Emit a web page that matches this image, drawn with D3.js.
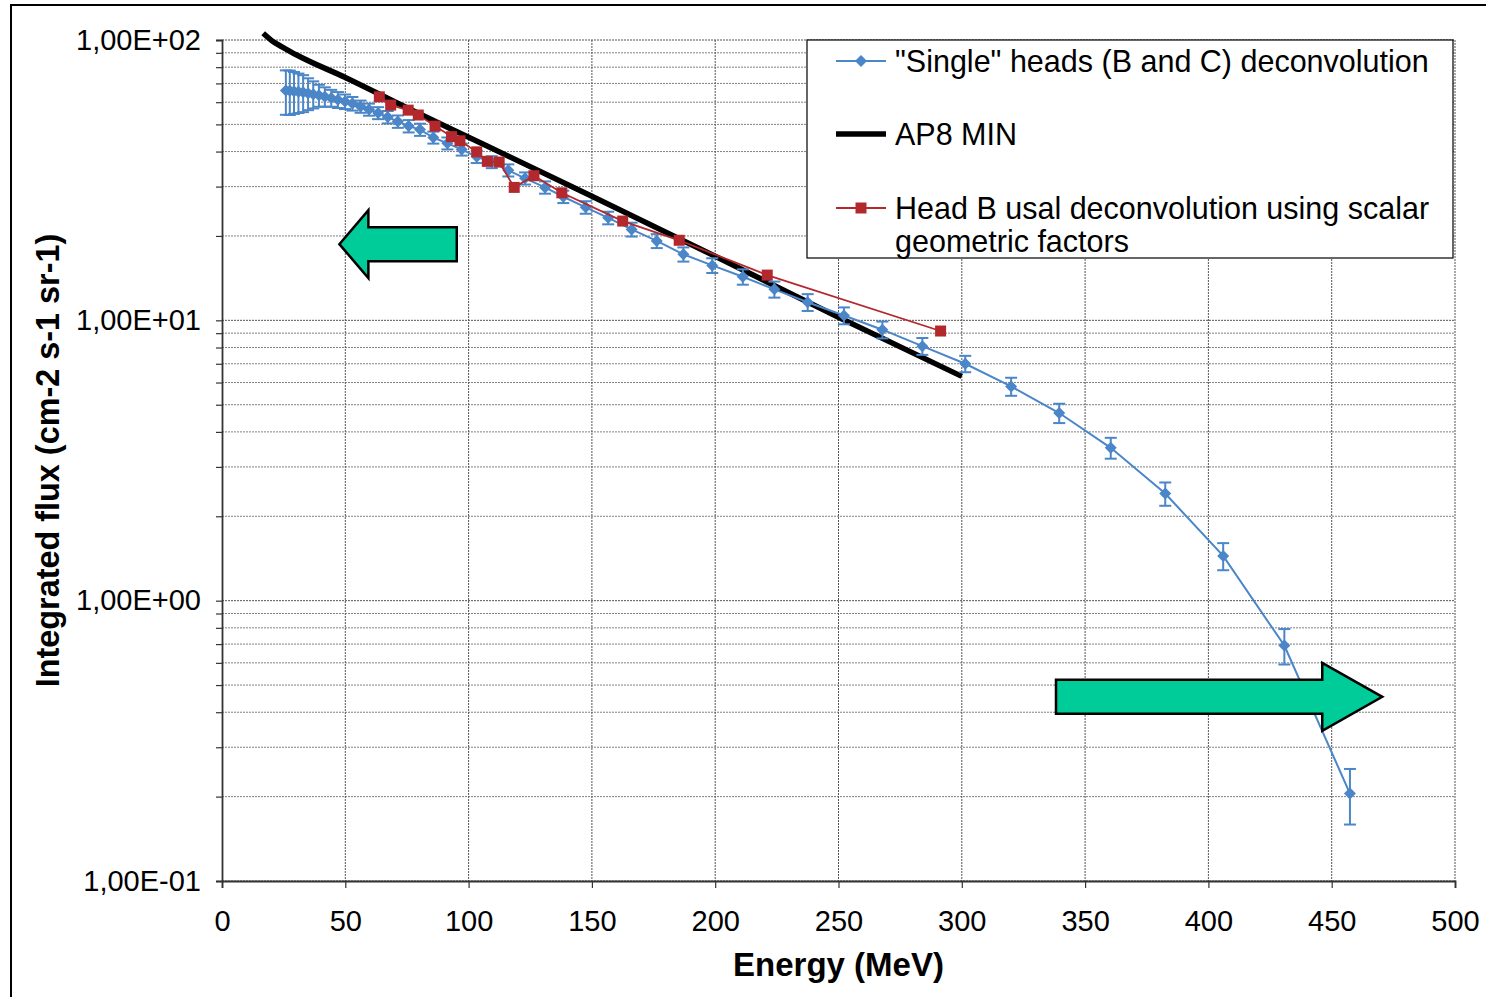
<!DOCTYPE html>
<html>
<head>
<meta charset="utf-8">
<script src="https://cdn.jsdelivr.net/npm/d3@7"></script>
<style>
  body { margin: 0; background: #fff; }
  svg { display: block; font-family: "Liberation Sans", Arial, sans-serif; }
</style>
</head>
<body>
<svg id="chart" width="1486" height="997"></svg>
<script>
// "Single" heads (B and C) deconvolution
const singleEnergy = [25.9, 27.5, 29.2, 31.0, 32.9, 34.9, 37.0, 39.3, 41.7, 44.3,
  47.0, 49.9, 52.9, 56.2, 59.6, 63.3, 67.2, 71.3, 75.7, 80.3,
  85.7, 91.4, 97.2, 103.3, 109.4, 116.1, 122.9, 131.0, 138.4, 147.5,
  156.6, 166.1, 176.3, 187.1, 198.8, 211.2, 224.0, 237.5, 252.2, 267.8,
  284.0, 301.4, 320.0, 339.5, 360.4, 382.5, 406.0, 430.8, 457.4];
const singleFlux = [66.0, 65.9, 65.7, 65.4, 65.1, 64.6, 64.1, 63.5, 62.8, 62.1,
  61.2, 60.3, 59.3, 57.9, 56.5, 54.9, 53.1, 51.2, 49.3, 47.9,
  44.9, 42.8, 40.7, 38.3, 36.7, 34.3, 32.1, 29.8, 27.6, 25.3,
  23.2, 21.1, 19.2, 17.2, 15.7, 14.3, 12.9, 11.6, 10.4, 9.26,
  8.09, 7.00, 5.81, 4.67, 3.51, 2.41, 1.444, 0.692, 0.205];
const singleErr = [11.9, 11.9, 11.2, 10.5, 9.8, 8.4, 7.1, 5.7, 5.0, 4.3,
  4.0, 3.6, 3.3, 2.9, 2.8, 2.7, 2.7, 2.6, 2.5, 2.4,
  2.2, 2.1, 2.0, 1.9, 1.8, 1.7, 1.6, 1.5, 1.4, 1.3,
  1.2, 1.2, 1.1, 1.0, 0.95, 0.9, 0.85, 0.8, 0.72, 0.64,
  0.56, 0.47, 0.43, 0.37, 0.30, 0.23, 0.16, 0.10, 0.046];

// Head B usal deconvolution
const headBEnergy = [63.8, 68.4, 75.5, 79.6, 86.4, 93.1, 96.5, 103.3, 107.6, 112.4,
  118.5, 126.5, 137.8, 162.5, 185.4, 221.1, 291.4];
const headBFlux = [62.7, 58.6, 56.2, 54.0, 49.3, 45.2, 43.7, 39.9, 36.9, 36.7,
  29.8, 32.8, 28.5, 22.6, 19.3, 14.5, 9.16];

// AP8 MIN model
const ap8Energy = [16.7, 20.8, 24.5, 30.3, 50, 75, 100, 150, 200, 250, 300];
const ap8Flux = [105.7, 98.6, 94.4, 88.4, 73.5, 57.3, 45.0, 27.7, 16.93, 10.25, 6.31];

const xTicks = [0, 50, 100, 150, 200, 250, 300, 350, 400, 450, 500];
const yDecades = [0.1, 1, 10, 100];
const yDecadeLabels = ["1,00E-01", "1,00E+00", "1,00E+01", "1,00E+02"];
const legendLabels = [["\"Single\" heads (B and C) deconvolution"], ["AP8 MIN"],
  ["Head B usal deconvolution using scalar", "geometric factors"]];

// annotation arrows (tail energy, tip energy, flux level)
const arrowTail = [95.2, 338.2];
const arrowTip = [47.6, 470.5];
const arrowFlux = [18.7, 0.454];

const BLUE = "#4A86C8";
const RED = "#B3282D";
const GREEN = "#00CC99";

const svg = d3.select("#chart");
const x = d3.scaleLinear().domain([0, 500]).range([222, 1455]);
const y = d3.scaleLog().domain([0.1, 100]).range([881, 40]);

// outer frame
svg.append("rect").attr("x", 11).attr("y", 5).attr("width", 1490).attr("height", 1000)
  .attr("fill", "none").attr("stroke", "#000").attr("stroke-width", 2);

// gridlines
const grid = svg.append("g");
grid.selectAll(".hg").data(y.ticks()).join("line")
  .attr("x1", x(0)).attr("x2", x(500))
  .attr("y1", d => y(d)).attr("y2", d => y(d))
  .attr("stroke", d => yDecades.includes(d) ? "#555" : "#808080")
  .attr("stroke-width", 1)
  .attr("stroke-dasharray", "2,1");
grid.selectAll(".vg").data(xTicks.slice(1)).join("line")
  .attr("x1", d => x(d)).attr("x2", d => x(d))
  .attr("y1", y(100)).attr("y2", y(0.1))
  .attr("stroke", "#555").attr("stroke-width", 1)
  .attr("stroke-dasharray", "2,1");

// axes
const yAxis = svg.append("g").attr("transform", `translate(${x(0)},0)`)
  .call(d3.axisLeft(y).tickValues(y.ticks()).tickSizeOuter(0).tickSize(6)
    .tickFormat(d => { const i = yDecades.indexOf(d); return i >= 0 ? yDecadeLabels[i] : ""; }));
const xAxis = svg.append("g").attr("transform", `translate(0,${y(0.1)})`)
  .call(d3.axisBottom(x).tickValues(xTicks).tickSizeOuter(0).tickSize(7).tickFormat(d3.format("d")));
[yAxis, xAxis].forEach(a => {
  a.select(".domain").attr("stroke", "#333").attr("stroke-width", 1.8);
  a.selectAll(".tick line").attr("stroke", "#333").attr("stroke-width", 1.2);
  a.selectAll("text").attr("fill", "#000").style("font-size", "29px")
    .style("font-family", "'Liberation Sans', Arial, sans-serif");
});
yAxis.selectAll("text").attr("x", -21);
xAxis.selectAll("text").attr("y", 29);

// axis titles
svg.append("text").attr("x", (x(0) + x(500)) / 2).attr("y", 976)
  .attr("text-anchor", "middle").style("font-size", "33px").style("font-weight", "bold")
  .text("Energy (MeV)");
svg.append("text").attr("transform", `translate(59,${(y(100) + y(0.1)) / 2}) rotate(-90)`)
  .attr("text-anchor", "middle").style("font-size", "32.4px").style("font-weight", "bold")
  .text("Integrated flux (cm-2 s-1 sr-1)");

// AP8 MIN
const ap8 = ap8Energy.map((e, i) => [e, ap8Flux[i]]);
svg.append("path").datum(ap8)
  .attr("d", d3.line().x(d => x(d[0])).y(d => y(d[1])).curve(d3.curveMonotoneX))
  .attr("fill", "none").attr("stroke", "#000").attr("stroke-width", 5.5);

// single heads with error bars
const single = singleEnergy.map((e, i) => ({e, v: singleFlux[i], err: singleErr[i]}));
const sg = svg.append("g");
sg.append("path").datum(single)
  .attr("d", d3.line().x(d => x(d.e)).y(d => y(d.v)))
  .attr("fill", "none").attr("stroke", BLUE).attr("stroke-width", 2);
const eb = sg.selectAll(".eb").data(single).join("g").attr("stroke", BLUE).attr("stroke-width", 2);
eb.append("line").attr("x1", d => x(d.e)).attr("x2", d => x(d.e))
  .attr("y1", d => y(d.v + d.err)).attr("y2", d => y(d.v - d.err));
eb.append("line").attr("x1", d => x(d.e) - 6).attr("x2", d => x(d.e) + 6)
  .attr("y1", d => y(d.v + d.err)).attr("y2", d => y(d.v + d.err));
eb.append("line").attr("x1", d => x(d.e) - 6).attr("x2", d => x(d.e) + 6)
  .attr("y1", d => y(d.v - d.err)).attr("y2", d => y(d.v - d.err));
const diamond = "M0,-6L6,0L0,6L-6,0Z";
sg.selectAll(".dm").data(single).join("path")
  .attr("d", diamond).attr("transform", d => `translate(${x(d.e)},${y(d.v)})`)
  .attr("fill", BLUE);

// head B
const headB = headBEnergy.map((e, i) => [e, headBFlux[i]]);
const rg = svg.append("g");
rg.append("path").datum(headB)
  .attr("d", d3.line().x(d => x(d[0])).y(d => y(d[1])))
  .attr("fill", "none").attr("stroke", RED).attr("stroke-width", 1.8);
rg.selectAll("rect").data(headB).join("rect")
  .attr("x", d => x(d[0]) - 5.5).attr("y", d => y(d[1]) - 5.5)
  .attr("width", 11).attr("height", 11).attr("fill", RED);

// green arrows
const headLen = [29, 60];
arrowTip.forEach((tip, i) => {
  const xt = x(tip), xs = x(arrowTail[i]), yc = y(arrowFlux[i]);
  const dir = Math.sign(xt - xs);
  const xb = xt - dir * headLen[i];
  const pts = [[xs, yc - 17], [xb, yc - 17], [xb, yc - 34], [xt, yc],
    [xb, yc + 34], [xb, yc + 17], [xs, yc + 17]];
  svg.append("path").attr("d", "M" + pts.join("L") + "Z")
    .attr("fill", GREEN).attr("stroke", "#000").attr("stroke-width", 2.5)
    .attr("stroke-linejoin", "miter");
});

// legend
const lg = svg.append("g");
lg.append("rect").attr("x", 807).attr("y", 40).attr("width", 646).attr("height", 218)
  .attr("fill", "#fff").attr("stroke", "#000").attr("stroke-width", 1.2);
const legendY = [61, 134, 208];
const legendColor = [BLUE, "#000", RED];
legendLabels.forEach((lines, i) => {
  const ly = legendY[i];
  lg.append("line").attr("x1", 836).attr("x2", 886).attr("y1", ly).attr("y2", ly)
    .attr("stroke", legendColor[i]).attr("stroke-width", i === 1 ? 5.5 : 2);
  if (i === 0) lg.append("path").attr("d", diamond).attr("transform", `translate(861,${ly})`).attr("fill", BLUE);
  if (i === 2) lg.append("rect").attr("x", 855.5).attr("y", ly - 5.5).attr("width", 11).attr("height", 11).attr("fill", RED);
  lines.forEach((t, j) => {
    lg.append("text").attr("x", 895).attr("y", ly + j * 33).attr("dy", "0.35em")
      .style("font-size", "30.5px").text(t);
  });
});
</script>
</body>
</html>
